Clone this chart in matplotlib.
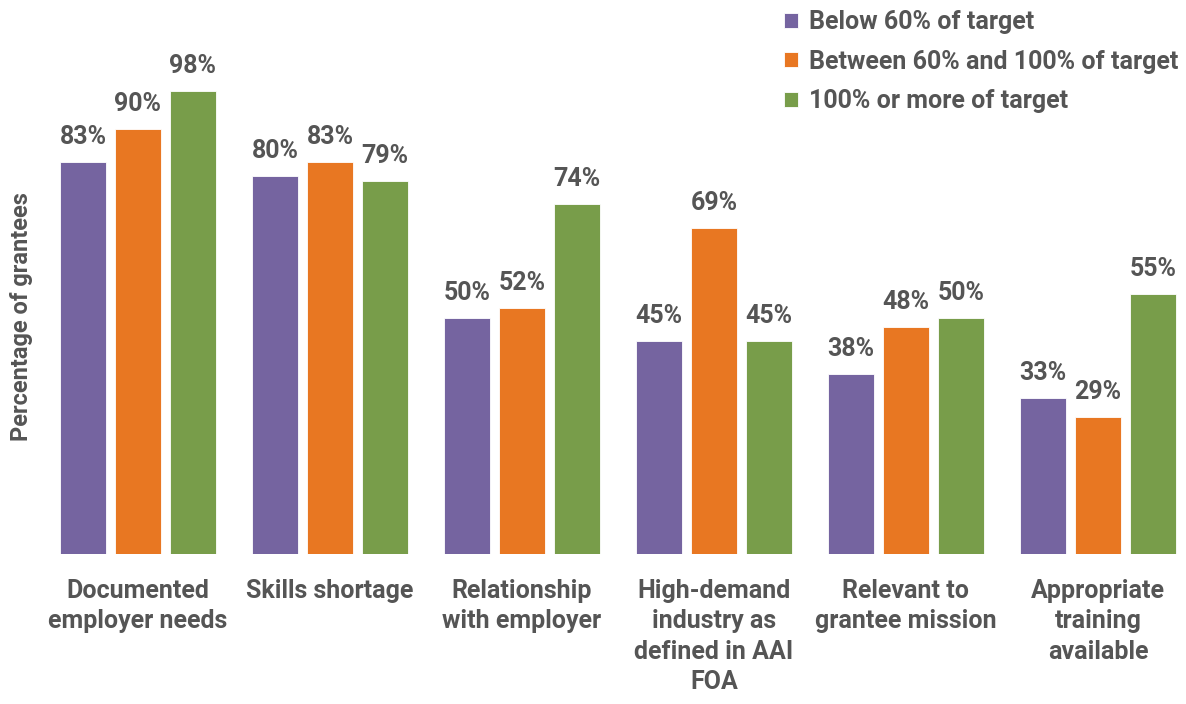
import numpy as np
import matplotlib.pyplot as plt

plt.rcParams['font.family'] = ['Roboto', 'DejaVu Sans']
plt.rcParams['font.stretch'] = 'condensed'
plt.rcParams['font.weight'] = 'bold'

categories = ['Documented\nemployer needs', 'Skills shortage', 'Relationship\nwith employer',
              'High-demand\nindustry as\ndefined in AAI\nFOA', 'Relevant to\ngrantee mission',
              'Appropriate\ntraining\navailable']
series_names = ['Below 60% of target', 'Between 60% and 100% of target', '100% or more of target']
below_60 = [83, 80, 50, 45, 38, 33]
between_60_100 = [90, 83, 52, 69, 48, 29]
above_100 = [98, 79, 74, 45, 50, 55]
colors = ['#7564A0', '#E87722', '#789D4A']
text_color = '#555555'

fig = plt.figure(figsize=(11.86, 7.04), dpi=100)
ax = fig.add_axes([42 / 1186, 150 / 704, 1142 / 1186, 553 / 704])

x = np.arange(len(categories))
pitch = 0.286
width = 0.24
for i, (vals, name, c) in enumerate(zip([below_60, between_60_100, above_100], series_names, colors)):
    pos = x + (i - 1) * pitch
    bars = ax.bar(pos, vals, width, color=c, edgecolor='white', linewidth=0.6, label=name)
    for b, v in zip(bars, vals):
        ax.text(b.get_x() + b.get_width() / 2, v + 3.8, f'{v}%', ha='center', va='baseline',
                fontsize=18, fontweight='bold', color=text_color)

ax.set_xlim(-0.5, 5.448)
ax.set_ylim(0, 117)
ax.set_yticks([])
ax.set_xticks(x)
ax.set_xticklabels(categories, fontsize=18, fontweight='bold', color=text_color, linespacing=1.33)
ax.tick_params(axis='x', length=0, pad=18)
for s in ax.spines.values():
    s.set_visible(False)

fig.text(22 / 1186, 1 - 317 / 704, 'Percentage of grantees', rotation=90, ha='center', va='center',
         fontsize=17, fontweight='bold', color=text_color)

leg = ax.legend(loc='upper left', bbox_to_anchor=(769 / 1186, 1.007), bbox_transform=fig.transFigure,
                frameon=False, fontsize=18, handlelength=0.55, handleheight=0.55, handletextpad=0.45,
                labelspacing=0.62, borderaxespad=0.2)
for t in leg.get_texts():
    t.set_color(text_color)

fig.savefig('out.png', dpi=100)
